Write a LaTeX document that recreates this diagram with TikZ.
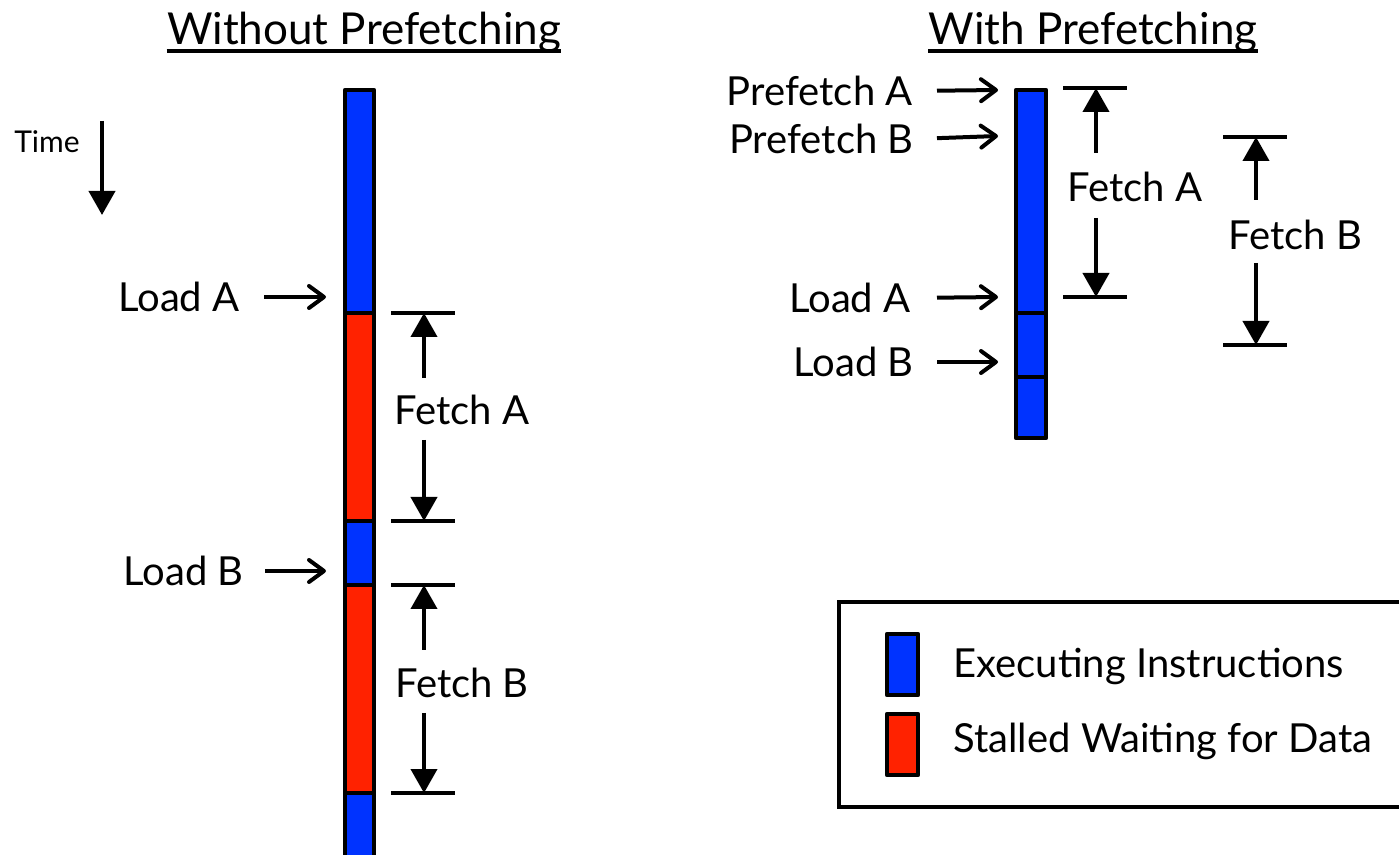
\documentclass[tikz,border=0pt]{standalone}
\usepackage{fontspec}
\setmainfont{Lato}
\usetikzlibrary{arrows.meta}
\definecolor{execblue}{RGB}{0,51,255}
\definecolor{stallred}{RGB}{255,34,0}
\begin{document}
\begin{tikzpicture}[x=0.5pt,y=-0.5pt,
  seg/.style={draw=black,line width=2.2pt,line join=round},
  exec/.style={seg,fill=execblue},
  stall/.style={seg,fill=stallred},
  lbl/.style={font=\fontsize{20}{24}\selectfont,inner sep=0pt},
  ttl/.style={font=\fontsize{22}{26}\selectfont,inner sep=0pt,anchor=base},
  ptr/.style={line width=2pt,-{Straight Barb[length=7.5pt,width=11pt,line width=2pt,round]}},
  dimline/.style={line width=2pt},
  dimarrow/.style={line width=2pt,-{Triangle[length=12pt,width=13pt]}},
]
\useasboundingbox (0,0) rectangle (1399,855);
\clip (0,0) rectangle (1399,855);

% ---------------- titles ----------------
\node[ttl] (t1) at (364,45) {Without Prefetching};
\node[ttl] (t2) at (1093,45) {With Prefetching};
\draw[line width=1.6pt] ([yshift=-3pt]t1.base west) -- ([yshift=-3pt]t1.base east);
\draw[line width=1.6pt] ([yshift=-3pt]t2.base west) -- ([yshift=-3pt]t2.base east);

% ---------------- time axis ----------------
\node[lbl,font=\fontsize{15}{18}\selectfont] (time) at (47,142) {Time};
\coordinate (timeTop) at (102,121);
\coordinate (timeEnd) at (102,215);
\draw[dimarrow] (timeTop) -- (timeEnd);

% ---------------- timeline without prefetching ----------------
\draw[exec]  (345,90)  rectangle (374,313);
\draw[stall] (345,313) rectangle (374,521);
\draw[exec]  (345,521) rectangle (374,585);
\draw[stall] (345,585) rectangle (374,793);
\draw[exec]  (345,793) rectangle (374,880);

\node[lbl,anchor=east] (lA) at (240,297) {Load A};
\node[lbl,anchor=east] (lB) at (244,571) {Load B};
\coordinate (lAtip) at (326,297);
\coordinate (lBtip) at (326,571);
\draw[ptr,shorten <=12pt] (lA.east) -- (lAtip);
\draw[ptr,shorten <=10.5pt] (lB.east) -- (lBtip);

% Fetch A span
\coordinate (fAtopL) at (391,313); \coordinate (fAtopR) at (455,313);
\coordinate (fAbotL) at (391,521); \coordinate (fAbotR) at (455,521);
\draw[dimline] (fAtopL) -- (fAtopR);
\draw[dimline] (fAbotL) -- (fAbotR);
\node[lbl] (fA) at (462,410) {Fetch A};
\coordinate (fAup) at (424,313); \coordinate (fAdn) at (424,521);
\coordinate (fAs1) at (424,378); \coordinate (fAs2) at (424,440);
\draw[dimarrow] (fAs1) -- (fAup);
\draw[dimarrow] (fAs2) -- (fAdn);

% Fetch B span
\coordinate (fBtopL) at (391,585); \coordinate (fBtopR) at (455,585);
\coordinate (fBbotL) at (391,793); \coordinate (fBbotR) at (455,793);
\draw[dimline] (fBtopL) -- (fBtopR);
\draw[dimline] (fBbotL) -- (fBbotR);
\node[lbl] (fB) at (462,683) {Fetch B};
\coordinate (fBup) at (424,585); \coordinate (fBdn) at (424,793);
\coordinate (fBs1) at (424,650); \coordinate (fBs2) at (424,713);
\draw[dimarrow] (fBs1) -- (fBup);
\draw[dimarrow] (fBs2) -- (fBdn);

% ---------------- timeline with prefetching ----------------
\draw[exec] (1016,90)  rectangle (1046,313);
\draw[exec] (1016,313) rectangle (1046,377);
\draw[exec] (1016,377) rectangle (1046,438);

\node[lbl,anchor=east] (pA) at (913,91)  {Prefetch A};
\node[lbl,anchor=east] (pB) at (914,139) {Prefetch B};
\node[lbl,anchor=east] (rA) at (911,298) {Load A};
\node[lbl,anchor=east] (rB) at (914,362) {Load B};
\coordinate (pAtip) at (998,90);
\coordinate (pBtip) at (998,136);
\coordinate (rAtip) at (998,297);
\coordinate (rBtip) at (998,362);
\draw[ptr,shorten <=12pt] (pA.east) -- (pAtip);
\draw[ptr,shorten <=11.5pt] (pB.east) -- (pBtip);
\draw[ptr,shorten <=13pt] (rA.east) -- (rAtip);
\draw[ptr,shorten <=11.5pt] (rB.east) -- (rBtip);

% Fetch A span
\coordinate (gAtopL) at (1063,88);  \coordinate (gAtopR) at (1127,88);
\coordinate (gAbotL) at (1063,297); \coordinate (gAbotR) at (1127,297);
\draw[dimline] (gAtopL) -- (gAtopR);
\draw[dimline] (gAbotL) -- (gAbotR);
\node[lbl] (gA) at (1135,187) {Fetch A};
\coordinate (gAup) at (1096,88); \coordinate (gAdn) at (1096,297);
\coordinate (gAs1) at (1096,153); \coordinate (gAs2) at (1096,218);
\draw[dimarrow] (gAs1) -- (gAup);
\draw[dimarrow] (gAs2) -- (gAdn);

% Fetch B span
\coordinate (gBtopL) at (1223,137); \coordinate (gBtopR) at (1287,137);
\coordinate (gBbotL) at (1223,345); \coordinate (gBbotR) at (1287,345);
\draw[dimline] (gBtopL) -- (gBtopR);
\draw[dimline] (gBbotL) -- (gBbotR);
\node[lbl] (gB) at (1295,235) {Fetch B};
\coordinate (gBup) at (1256,137); \coordinate (gBdn) at (1256,345);
\coordinate (gBs1) at (1256,200); \coordinate (gBs2) at (1256,263);
\draw[dimarrow] (gBs1) -- (gBup);
\draw[dimarrow] (gBs2) -- (gBdn);

% ---------------- legend ----------------
\draw[line width=2pt] (839,602) rectangle (1420,807);
\draw[exec]  (887,634) rectangle (918,695);
\draw[stall] (887,714) rectangle (918,775);
\node[lbl,anchor=base west] (leg1) at (953,678) {Executing Instructions};
\node[lbl,anchor=base west] (leg2) at (953,753) {Stalled Waiting for Data};
\end{tikzpicture}
\end{document}
